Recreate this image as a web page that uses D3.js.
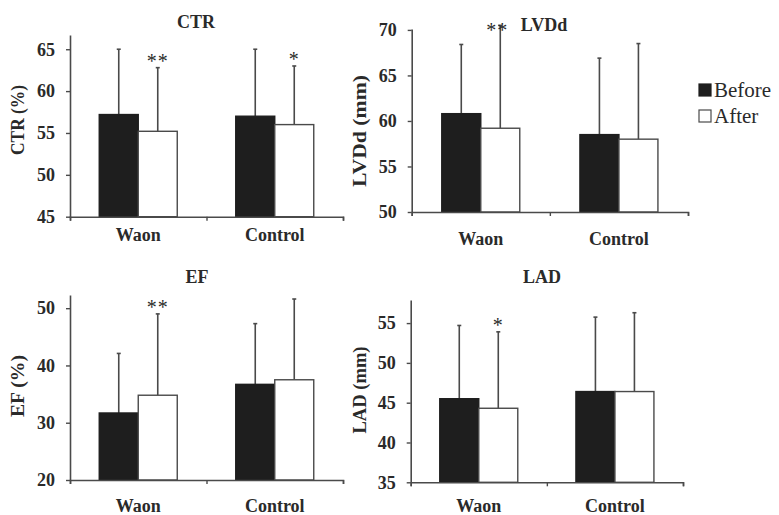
<html>
<head>
<script src="https://d3js.org/d3.v7.min.js"></script>
<style>
  body { margin: 0; background: #fff; }
  text { font-family: "Liberation Serif", "Times New Roman", serif; fill: #2a2a2a; }
  .bold { font-weight: bold; }
</style>
</head>
<body>
<script>
// groups and series
var groups = ["Waon", "Control"];
var series = ["Before", "After"];

var titles = ["CTR", "LVDd", "EF", "LAD"];
var yLabels = ["CTR (%)", "LVDd (mm)", "EF (%)", "LAD (mm)"];
var yTicks = [[45, 50, 55, 60, 65], [50, 55, 60, 65, 70], [20, 30, 40, 50], [35, 40, 45, 50, 55]];
var yDomains = [[45, 66.7], [50, 70.1], [20, 52.3], [35, 57.9]];

// means, order: Waon Before, Waon After, Control Before, Control After
var ctrMean  = [57.2, 55.2, 57.0, 56.0];
var ctrSD    = [7.8, 7.6, 8.0, 7.0];
var lvddMean = [60.8, 59.2, 58.5, 58.0];
var lvddSD   = [7.6, 11.3, 8.4, 10.5];
var efMean   = [31.7, 34.8, 36.7, 37.5];
var efSD     = [10.4, 14.2, 10.6, 14.1];
var ladMean  = [45.5, 44.3, 46.4, 46.4];
var ladSD    = [9.2, 9.6, 9.35, 9.9];

// significance marks: [group, series, text]
var ctrStars  = [["Waon", "After", "**"], ["Control", "After", "*"]];
var lvddStars = [["Waon", "After", "**"]];
var efStars   = [["Waon", "After", "**"]];
var ladStars  = [["Waon", "After", "*"]];

var means = [ctrMean, lvddMean, efMean, ladMean];
var sds = [ctrSD, lvddSD, efSD, ladSD];
var stars = [ctrStars, lvddStars, efStars, ladStars];

// layout (pixels)
var layout = [
  {left: 70, right: 343, top: 35, bottom: 216.7, tx: 196, ty: 28, lx: 18, ly: 120, ll: 70, xly: 241, starDy: 0, starDx: 0},
  {left: 411.7, right: 688, top: 29, bottom: 212, tx: 544, ty: 31, lx: 360, ly: 131, ll: 112, xly: 245, starDy: 12, starDx: -3},
  {left: 70, right: 343, top: 295, bottom: 480, tx: 197, ty: 283, lx: 18, ly: 386, ll: 62, xly: 512, starDy: 0, starDx: 0},
  {left: 410.7, right: 683, top: 300, bottom: 482.3, tx: 542, ty: 283, lx: 360, ly: 390, ll: 87, xly: 512, starDy: 0, starDx: 0}
];

var svg = d3.select("body").append("svg")
  .attr("width", 779)
  .attr("height", 515);

var color = d3.scaleOrdinal().domain(series).range(["#1e1e1e", "#ffffff"]);
var lineCol = "#4a4a4a";

layout.forEach(function(L, i) {
  var g = svg.append("g");
  var x0 = d3.scaleBand().domain(groups).range([L.left, L.right]);
  var bw = x0.bandwidth();
  var x1 = d3.scaleBand().domain(series).range([bw / 2 - 39, bw / 2 + 39]);
  var y = d3.scaleLinear().domain(yDomains[i]).range([L.bottom, L.top]);

  var rows = [];
  groups.forEach(function(gr, gi) {
    series.forEach(function(s, si) {
      var k = gi * 2 + si;
      rows.push({group: gr, key: s, mean: means[i][k], sd: sds[i][k]});
    });
  });

  function cx(d) { return x0(d.group) + x1(d.key) + x1.bandwidth() / 2; }

  // error bars (upper only)
  var eb = g.append("g").attr("stroke", lineCol).attr("stroke-width", 1.6);
  eb.selectAll("line.v").data(rows).enter().append("line")
    .attr("x1", cx).attr("x2", cx)
    .attr("y1", function(d) { return y(d.mean); })
    .attr("y2", function(d) { return y(d.mean + d.sd); });
  eb.selectAll("line.c").data(rows).enter().append("line")
    .attr("x1", function(d) { return cx(d) - 2; })
    .attr("x2", function(d) { return cx(d) + 2; })
    .attr("y1", function(d) { return y(d.mean + d.sd); })
    .attr("y2", function(d) { return y(d.mean + d.sd); });

  // bars
  g.append("g").selectAll("rect").data(rows).enter().append("rect")
    .attr("x", function(d) { return x0(d.group) + x1(d.key); })
    .attr("y", function(d) { return y(d.mean); })
    .attr("width", x1.bandwidth())
    .attr("height", function(d) { return y(yDomains[i][0]) - y(d.mean); })
    .attr("fill", function(d) { return color(d.key); })
    .attr("stroke", function(d) { return d.key == "Before" ? "#1e1e1e" : lineCol; })
    .attr("stroke-width", 1.4);

  // y axis
  var ya = g.append("g")
    .attr("transform", "translate(" + L.left + ",0)")
    .call(d3.axisLeft(y).tickValues(yTicks[i]).tickSize(4).tickPadding(11).tickSizeOuter(0));
  ya.attr("font-family", null);
  ya.select(".domain").attr("stroke", lineCol).attr("stroke-width", 1.6);
  ya.selectAll(".tick line").attr("stroke", lineCol).attr("stroke-width", 1.4);
  ya.selectAll(".tick text")
    .attr("class", "bold")
    .style("font-size", "18px")
    .attr("fill", "#2a2a2a");

  // x axis: plain line with ticks between groups
  var xs = d3.scaleLinear().domain([0, groups.length]).range([L.left, L.right]);
  var xa = g.append("g")
    .attr("transform", "translate(0," + L.bottom + ")")
    .call(d3.axisBottom(xs).ticks(2).tickSize(4).tickSizeOuter(4).tickFormat(""));
  xa.select(".domain").attr("stroke", lineCol).attr("stroke-width", 1.6);
  xa.selectAll(".tick line").attr("stroke", lineCol).attr("stroke-width", 1.4);

  g.selectAll("text.xl").data(groups).enter().append("text")
    .attr("class", "bold")
    .attr("x", function(d) { return x0(d) + bw / 2; })
    .attr("y", L.xly)
    .attr("text-anchor", "middle")
    .style("font-size", "18px")
    .text(function(d) { return d; });

  // title
  g.append("text")
    .attr("class", "bold")
    .attr("x", L.tx).attr("y", L.ty)
    .attr("text-anchor", "middle")
    .style("font-size", "18px")
    .text(titles[i]);

  // y label
  g.append("text")
    .attr("class", "bold")
    .attr("transform", "translate(" + L.lx + "," + L.ly + ") rotate(-90)")
    .attr("text-anchor", "middle")
    .attr("dy", "0.35em")
    .attr("textLength", L.ll)
    .attr("lengthAdjust", "spacingAndGlyphs")
    .style("font-size", "18px")
    .text(yLabels[i]);

  // stars
  g.selectAll("text.st").data(stars[i]).enter().append("text")
    .attr("x", function(d) { return x0(d[0]) + x1(d[1]) + x1.bandwidth() / 2 + L.starDx; })
    .attr("y", function(d) {
      var k = groups.indexOf(d[0]) * 2 + series.indexOf(d[1]);
      return y(means[i][k] + sds[i][k]) + L.starDy;
    })
    .attr("text-anchor", "middle")
    .style("font-size", "20px")
    .style("letter-spacing", "1px")
    .text(function(d) { return d[2]; });
});

// legend
var lg = svg.append("g").attr("transform", "translate(699,84)");
series.forEach(function(s, i) {
  lg.append("rect")
    .attr("x", 0).attr("y", i * 26)
    .attr("width", 12).attr("height", 12)
    .attr("fill", color(s))
    .attr("stroke", i == 0 ? "#1e1e1e" : lineCol)
    .attr("stroke-width", 1.2);
  lg.append("text")
    .attr("x", 15).attr("y", i * 26 + 13)
    .style("font-size", "21px")
    .text(s);
});
</script>
</body>
</html>
